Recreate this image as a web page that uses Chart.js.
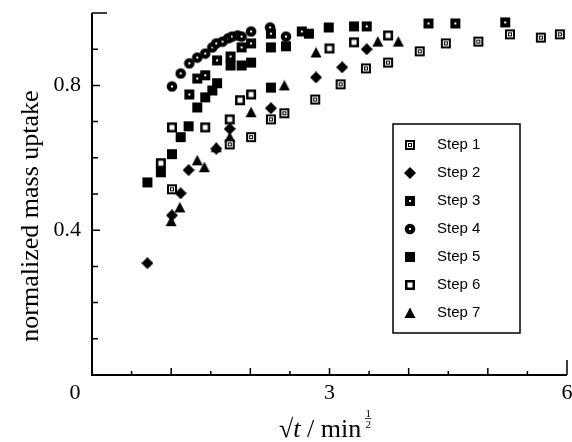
<!DOCTYPE html>
<html>
<head>
<meta charset="utf-8">
<script src="https://cdn.jsdelivr.net/npm/chart.js@4/dist/chart.umd.min.js"></script>
<style>
  html, body { margin: 0; padding: 0; background: #fff; }
  #caixa { width: 572px; height: 442px; }
</style>
</head>
<body>
<div id="caixa"><canvas id="grafico"></canvas></div>
<script>
// valores (x = raiz do tempo, y = fração de massa)
const step1_x = [1.01, 1.74, 2.01, 2.26, 2.43, 2.82, 3.14, 3.46, 3.74, 4.14, 4.47, 4.88, 5.28, 5.67, 5.91];
const step1_y = [0.513, 0.637, 0.657, 0.706, 0.723, 0.761, 0.803, 0.847, 0.863, 0.894, 0.916, 0.921, 0.941, 0.932, 0.941];

const step2_x = [0.70, 1.01, 1.12, 1.22, 1.57, 1.74, 2.26, 2.83, 3.16, 3.47];
const step2_y = [0.309, 0.441, 0.502, 0.566, 0.625, 0.68, 0.737, 0.822, 0.85, 0.90];

const step3_x = [1.23, 1.33, 1.43, 1.58, 1.75, 1.89, 2.01, 2.26, 2.65, 3.47, 4.25, 4.59, 5.22];
const step3_y = [0.775, 0.819, 0.828, 0.869, 0.88, 0.905, 0.916, 0.943, 0.949, 0.963, 0.971, 0.971, 0.974];

const step4_x = [1.01, 1.12, 1.23, 1.33, 1.43, 1.52, 1.57, 1.65, 1.72, 1.77, 1.84, 1.89, 2.01, 2.25, 2.45];
const step4_y = [0.797, 0.833, 0.861, 0.877, 0.888, 0.905, 0.916, 0.921, 0.93, 0.935, 0.938, 0.935, 0.949, 0.96, 0.935];

const step5_x = [0.70, 0.87, 1.01, 1.12, 1.22, 1.33, 1.43, 1.52, 1.58, 1.75, 1.89, 2.01, 2.26, 2.26, 2.45, 2.74, 2.99, 3.31];
const step5_y = [0.532, 0.56, 0.61, 0.657, 0.687, 0.739, 0.767, 0.786, 0.806, 0.855, 0.855, 0.863, 0.905, 0.794, 0.908, 0.943, 0.96, 0.963];

const step6_x = [0.87, 1.01, 1.43, 1.74, 1.87, 2.01, 3.0, 3.31, 3.74];
const step6_y = [0.585, 0.684, 0.684, 0.706, 0.759, 0.775, 0.902, 0.919, 0.938];

const step7_x = [1.0, 1.11, 1.33, 1.42, 1.57, 1.74, 2.01, 2.43, 2.83, 3.61, 3.87];
const step7_y = [0.425, 0.463, 0.593, 0.574, 0.629, 0.657, 0.726, 0.80, 0.891, 0.921, 0.921];

const nomes = ['Step 1', 'Step 2', 'Step 3', 'Step 4', 'Step 5', 'Step 6', 'Step 7'];
const xs = [step1_x, step2_x, step3_x, step4_x, step5_x, step6_x, step7_x];
const ys = [step1_y, step2_y, step3_y, step4_y, step5_y, step6_y, step7_y];

// rotulos das marcas
const rotulos_x = [3, 6];
const rotulos_y = [0.4, 0.8];

// marcadores desenhados num canvas pequeno
function marcador(tipo) {
    const c = document.createElement('canvas');
    c.width = 12;
    c.height = 12;
    const g = c.getContext('2d');
    g.fillStyle = '#000';
    if (tipo === 1) {
        g.fillRect(1, 1, 10, 10);
        g.fillStyle = '#fff'; g.fillRect(3, 3, 6, 6);
        g.fillStyle = '#000'; g.fillRect(4, 4, 4, 4);
        g.fillStyle = '#fff'; g.fillRect(5, 5, 2, 2);
    } else if (tipo === 2) {
        g.beginPath();
        g.moveTo(6, 0); g.lineTo(12, 6); g.lineTo(6, 12); g.lineTo(0, 6);
        g.closePath(); g.fill();
    } else if (tipo === 3) {
        g.fillRect(1, 1, 10, 10);
        g.fillStyle = '#fff'; g.fillRect(5, 5, 2, 2);
    } else if (tipo === 4) {
        g.beginPath(); g.arc(6, 6, 5.3, 0, Math.PI * 2); g.fill();
        g.fillStyle = '#fff'; g.fillRect(5, 5, 2, 2);
    } else if (tipo === 5) {
        g.fillRect(1, 1, 10, 10);
    } else if (tipo === 6) {
        g.fillRect(1, 1, 10, 10);
        g.fillStyle = '#fff'; g.fillRect(3.5, 3.5, 5, 5);
    } else {
        g.beginPath();
        g.moveTo(6, 0.5); g.lineTo(11.5, 11); g.lineTo(0.5, 11);
        g.closePath(); g.fill();
    }
    return c;
}

const marcadores = [1, 2, 3, 4, 5, 6, 7].map(marcador);

const conjuntos = nomes.map((nome, i) => ({
    label: nome,
    data: xs[i].map((x, j) => ({ x: x, y: ys[i][j] })),
    pointStyle: marcadores[i],
    showLine: false,
}));

// eixos, marcas, titulos e legenda
const molduraPlugin = {
    id: 'moldura',
    afterDraw(chart) {
        const ctx = chart.ctx;
        const sx = chart.scales.x;
        const sy = chart.scales.y;
        const esq = sx.left, dir = sx.right, cima = sy.top, baixo = sy.bottom;
        ctx.save();
        ctx.strokeStyle = '#000';
        ctx.lineWidth = 2;
        ctx.beginPath();
        ctx.moveTo(esq, cima);
        ctx.lineTo(esq, baixo);
        ctx.lineTo(dir, baixo);
        ctx.stroke();

        ctx.lineWidth = 1.5;
        ctx.beginPath();
        for (let k = 1; k <= 10; k++) {
            const py = sy.getPixelForValue(k / 10);
            let tam = (k === 4 || k === 8) ? 8 : 6;
            if (k === 10) tam = 15;
            ctx.moveTo(esq, py);
            ctx.lineTo(esq + tam, py);
        }
        for (let k = 1; k <= 12; k++) {
            const px = sx.getPixelForValue(k / 2);
            let tam = (k % 2 === 0) ? 7 : 4;
            if (k === 12) tam = 15;
            ctx.moveTo(px, baixo);
            ctx.lineTo(px, baixo - tam);
        }
        ctx.stroke();

        // rotulos numericos
        ctx.fillStyle = '#000';
        ctx.font = '22px "Liberation Serif"';
        ctx.textBaseline = 'middle';
        ctx.textAlign = 'right';
        rotulos_y.forEach(v => ctx.fillText(v.toFixed(1), 81, sy.getPixelForValue(v)));
        ctx.textAlign = 'center';
        rotulos_x.forEach(v => ctx.fillText(String(v), sx.getPixelForValue(v), 393));
        ctx.fillText('0', 75, 393);

        // titulo do eixo y
        ctx.save();
        ctx.translate(31, 216);
        ctx.rotate(-Math.PI / 2);
        ctx.font = '26px "Liberation Serif"';
        ctx.fillText('normalized mass uptake', 0, 0);
        ctx.restore();

        // titulo do eixo x: raiz de t / min^(1/2)
        ctx.textAlign = 'left';
        ctx.textBaseline = 'alphabetic';
        const base = 437;
        let px = 279;
        ctx.font = '26px "Liberation Serif"';
        ctx.fillText('\u221A', px, base);
        px += ctx.measureText('\u221A').width;
        ctx.font = 'italic 26px "Liberation Serif"';
        ctx.fillText('t', px, base);
        px += ctx.measureText('t').width;
        ctx.font = '26px "Liberation Serif"';
        ctx.fillText(' / min', px, base);
        px += ctx.measureText(' / min').width + 4;
        ctx.font = '11px "Liberation Serif"';
        ctx.textAlign = 'center';
        ctx.fillText('1', px + 3, base - 20);
        ctx.fillText('2', px + 3, base - 9);
        ctx.lineWidth = 0.8;
        ctx.beginPath();
        ctx.moveTo(px, base - 18.5);
        ctx.lineTo(px + 6, base - 18.5);
        ctx.stroke();

        // legenda com moldura
        ctx.lineWidth = 1.5;
        ctx.strokeRect(393, 124, 127, 209);
        ctx.font = '15px "Liberation Sans"';
        ctx.textAlign = 'left';
        ctx.textBaseline = 'middle';
        const linhas = [145, 173, 201, 229, 257, 285, 313];
        nomes.forEach((nome, i) => {
            ctx.drawImage(marcadores[i], 404, linhas[i] - 6);
            ctx.fillText(nome, 437, linhas[i]);
        });
        ctx.restore();
    }
};

const grafico = new Chart(document.getElementById('grafico'), {
    type: 'scatter',
    data: { datasets: conjuntos },
    options: {
        responsive: true,
        maintainAspectRatio: false,
        animation: false,
        layout: { padding: { top: 13, right: 3, left: 0, bottom: 0 } },
        plugins: {
            legend: { display: false },
            tooltip: { enabled: false },
        },
        scales: {
            x: {
                type: 'linear',
                min: 0,
                max: 6,
                border: { display: false },
                grid: { display: false },
                ticks: { display: false, stepSize: 0.5 },
                afterFit: (s) => { s.height = 67; },
            },
            y: {
                type: 'linear',
                min: 0,
                max: 1,
                border: { display: false },
                grid: { display: false },
                ticks: { display: false, stepSize: 0.1 },
                afterFit: (s) => { s.width = 92; },
            },
        },
    },
    plugins: [molduraPlugin],
});
</script>
</body>
</html>
